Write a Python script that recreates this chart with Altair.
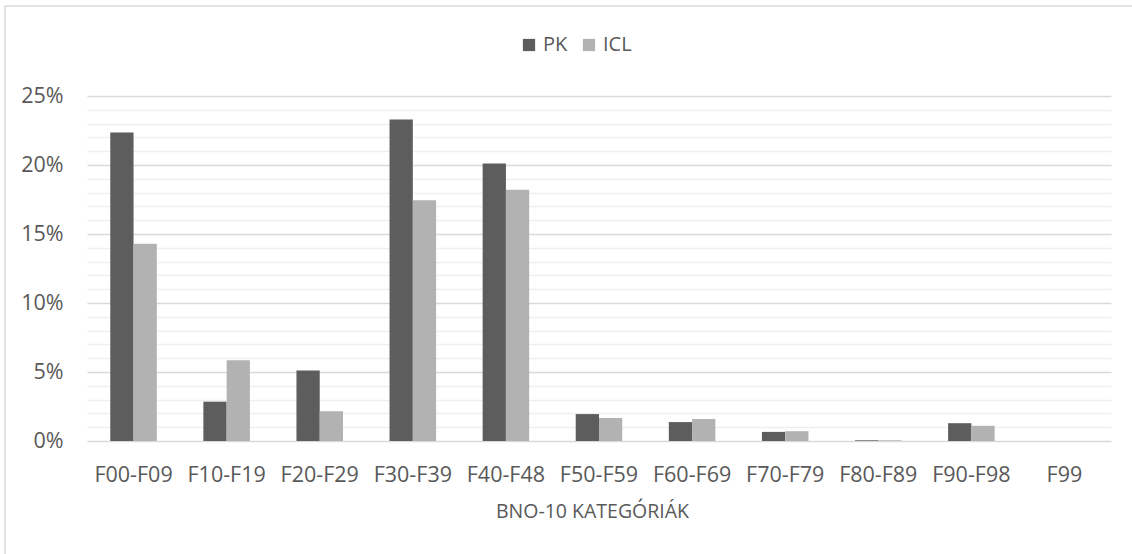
import altair as alt
import pandas as pd

# BNO-10 diagnostic categories and the share (%) of each group
categories = ["F00-F09", "F10-F19", "F20-F29", "F30-F39", "F40-F48",
              "F50-F59", "F60-F69", "F70-F79", "F80-F89", "F90-F98", "F99"]
pk_values = [22.35, 2.85, 5.1, 23.3, 20.1, 1.95, 1.37, 0.66, 0.05, 1.29, 0.0]
icl_values = [14.3, 5.85, 2.15, 17.45, 18.2, 1.66, 1.59, 0.71, 0.05, 1.1, 0.0]
series = ["PK", "ICL"]
series_colors = ["#5d5d5d", "#b2b2b2"]
y_ticks = list(range(0, 26))

rows = []
for cat, pk, icl in zip(categories, pk_values, icl_values):
    rows.append({"kat": cat, "csoport": "PK", "arany": pk})
    rows.append({"kat": cat, "csoport": "ICL", "arany": icl})
df = pd.DataFrame(rows)

FONT = "Open Sans"
TEXT = "#595959"

bars = alt.Chart(df).mark_bar(stroke=None).encode(
    x=alt.X(
        "kat:N",
        sort=categories,
        scale=alt.Scale(paddingInner=0.5, paddingOuter=0.25),
        axis=alt.Axis(
            title="BNO-10 KATEGÓRIÁK",
            labelAngle=0,
            ticks=False,
            domain=False,
            grid=False,
            labelPadding=40,
            labelBaseline="alphabetic",
            labelFont=FONT,
            labelFontSize=21.5,
            labelColor=TEXT,
            titleFont=FONT,
            titleFontSize=19.5,
            titleFontWeight="normal",
            titleColor=TEXT,
            titleBaseline="alphabetic",
            titleAnchor="start",
            titleAlign="center",
            titleX=505,
            titleY=76,
        ),
    ),
    xOffset=alt.XOffset("csoport:N", sort=series,
                        scale=alt.Scale(paddingInner=0, paddingOuter=0)),
    y=alt.Y(
        "arany:Q",
        scale=alt.Scale(domain=[0, 25], nice=False),
        axis=alt.Axis(
            title=None,
            values=y_ticks,
            ticks=False,
            domain=False,
            labelExpr="datum.value % 5 === 0 ? datum.value + '%' : ''",
            labelPadding=24,
            labelFont=FONT,
            labelFontSize=21.5,
            labelColor=TEXT,
            gridColor=alt.condition("datum.value % 5 === 0",
                                    alt.value("#d9d9d9"), alt.value("#efefef")),
            gridWidth=1.5,
        ),
    ),
    color=alt.Color(
        "csoport:N",
        sort=series,
        scale=alt.Scale(domain=series, range=series_colors),
        legend=alt.Legend(
            title=None,
            orient="none",
            direction="horizontal",
            legendX=432,
            legendY=-61,
            padding=0,
            symbolType="square",
            symbolSize=150,
            symbolStrokeWidth=0,
            symbolOffset=0,
            labelOffset=4,
            columnPadding=11,
            labelFont=FONT,
            labelFontSize=20,
            labelColor=TEXT,
        ),
    ),
)

# thin outline around the whole chart area
frame = alt.Chart(pd.DataFrame({"k": [0]})).mark_rect(
    fill=None, stroke="#d9d9d9", strokeWidth=1.5
).encode(
    x=alt.value(-82), x2=alt.value(1080),
    y=alt.value(-90), y2=alt.value(480),
)

chart = alt.layer(frame, bars).properties(
    width=1024,
    height=345,
    background="white",
    autosize=alt.AutoSizeParams(type="none"),
    padding={"left": 87, "top": 96, "right": 21, "bottom": 113},
).configure_view(stroke=None)

chart.save("out.html", embed_options={"renderer": "svg", "actions": False})
